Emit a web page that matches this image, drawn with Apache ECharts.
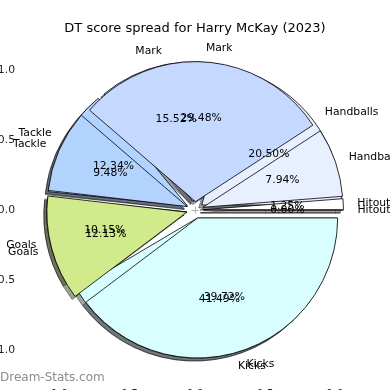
<!DOCTYPE html>
<html><head><meta charset="utf-8">
<script src="https://cdn.jsdelivr.net/npm/echarts@6/dist/echarts.min.js"></script>
<style>html,body{margin:0;padding:0;background:#fff}#c{width:390px;height:390px}</style>
</head><body><div id="c"></div>
<script>
// ---- data ----
const categories = ['Hitouts', 'Handballs', 'Mark', 'Tackle', 'Goals', 'Kicks'];
const spreadA = [0.00, 20.50, 15.52, 12.34, 10.15, 41.49];   // lower pie
const spreadB = [1.25, 7.94, 29.48, 9.48, 12.13, 39.72];     // upper pie
const axisTickValues = [-1.0, -0.5, 0.0, 0.5, 1.0];
const titleText = 'DT score spread for Harry McKay (2023)';
const watermarkText = 'Dream-Stats.com';

// ---- styles ----
const colors = ['#ffffff', '#e8f0ff', '#c5d8ff', '#b3d3ff', '#d0ea8c', '#d9feff'];
const FONT = 'DejaVu Sans';
const FS = 10.8;
const CX = 195, CY = 210, R = 140, EXPLODE = 8.4, SH = 3;

function shadowColor(hex) {
  const r = parseInt(hex.slice(1, 3), 16), g = parseInt(hex.slice(3, 5), 16), b = parseInt(hex.slice(5, 7), 16);
  return 'rgba(' + Math.round(r * 0.3) + ',' + Math.round(g * 0.3) + ',' + Math.round(b * 0.3) + ',0.5)';
}
function items(vals, styleFn) {
  return vals.map((v, i) => Object.assign({ name: categories[i], value: v, selected: true }, styleFn ? styleFn(i) : {}));
}
const base = {
  type: 'pie', startAngle: 0, clockwise: false, selectedMode: 'multiple', selectedOffset: EXPLODE,
  avoidLabelOverlap: false, silent: true, animation: false, minShowLabelAngle: 0,
  labelLayout: { hideOverlap: false },
  emphasis: { disabled: true }
};
function shadowSeries(vals) {
  return Object.assign({}, base, {
    center: [CX - SH, CY + SH], radius: R,
    data: items(vals, i => ({ itemStyle: { color: shadowColor(colors[i]), borderColor: 'rgba(0,0,0,0.5)', borderWidth: 0.8 } })),
    label: { show: false }, labelLine: { show: false },
    select: { itemStyle: { borderColor: 'rgba(0,0,0,0.5)', borderWidth: 0.8 } }
  });
}
function wedgeSeries(vals) {
  return Object.assign({}, base, {
    center: [CX, CY], radius: R,
    data: items(vals, i => ({ itemStyle: { color: colors[i] } })),
    itemStyle: { borderColor: '#000', borderWidth: 0.8 },
    select: { itemStyle: { borderColor: '#000', borderWidth: 0.8 } },
    label: { show: false }, labelLine: { show: false }
  });
}
function outerLabelSeries(vals) {
  return Object.assign({}, base, {
    center: [CX, CY], radius: R,
    data: items(vals),
    itemStyle: { color: 'rgba(0,0,0,0)', borderWidth: 0 },
    select: { itemStyle: { color: 'rgba(0,0,0,0)', borderWidth: 0 } },
    label: { show: true, position: 'outside', formatter: '{b}', color: '#000', fontSize: FS, fontFamily: FONT, distanceToLabelLine: 0 },
    labelLine: { show: false, length: 14, length2: 0 }
  });
}
function innerLabelSeries(vals) {
  return Object.assign({}, base, {
    center: [CX, CY], radius: [22, R],
    data: items(vals),
    itemStyle: { color: 'rgba(0,0,0,0)', borderWidth: 0 },
    select: { itemStyle: { color: 'rgba(0,0,0,0)', borderWidth: 0 } },
    label: { show: true, position: 'inside', formatter: p => p.value.toFixed(2) + '%', color: '#000', fontSize: FS, fontFamily: FONT },
    labelLine: { show: false }
  });
}

const tickFmt = v => (v < 0 ? '\u2212' : '') + Math.abs(v).toFixed(1);
const tickStyle = { show: true, inside: true, length: 3.5, lineStyle: { color: '#b0b0b0', width: 1 } };
function axis(pos, showLabel, margin) {
  return {
    type: 'value', position: pos, offset: 35, min: axisTickValues[0], max: axisTickValues[axisTickValues.length - 1], interval: 0.5,
    axisLine: { show: false }, splitLine: { show: false }, axisTick: tickStyle,
    axisLabel: { show: showLabel, formatter: tickFmt, fontSize: FS, fontFamily: FONT, color: '#222', margin: margin }
  };
}

const chart = echarts.init(document.getElementById('c'), null, { renderer: 'canvas' });
chart.setOption({
  animation: false,
  backgroundColor: '#fff',
  title: { text: titleText, left: 'center', top: 17, textStyle: { fontFamily: FONT, fontSize: 13, fontWeight: 'normal', color: '#000' } },
  grid: { left: 55, right: 55, top: 70, bottom: 40, containLabel: false, outerBoundsMode: 'none' },
  xAxis: [axis('bottom', true, 4), axis('top', false, 4)],
  yAxis: [axis('left', true, 5), axis('right', false, 5)],
  graphic: [{ type: 'text', left: 0, top: 372, style: { text: watermarkText, fontFamily: FONT, fontSize: 12, fontWeight: 'normal', fill: '#8c8c8c' } }],
  series: [
    shadowSeries(spreadA), shadowSeries(spreadB),
    wedgeSeries(spreadA), wedgeSeries(spreadB),
    outerLabelSeries(spreadA), outerLabelSeries(spreadB),
    innerLabelSeries(spreadA), innerLabelSeries(spreadB)
  ]
});
</script></body></html>
